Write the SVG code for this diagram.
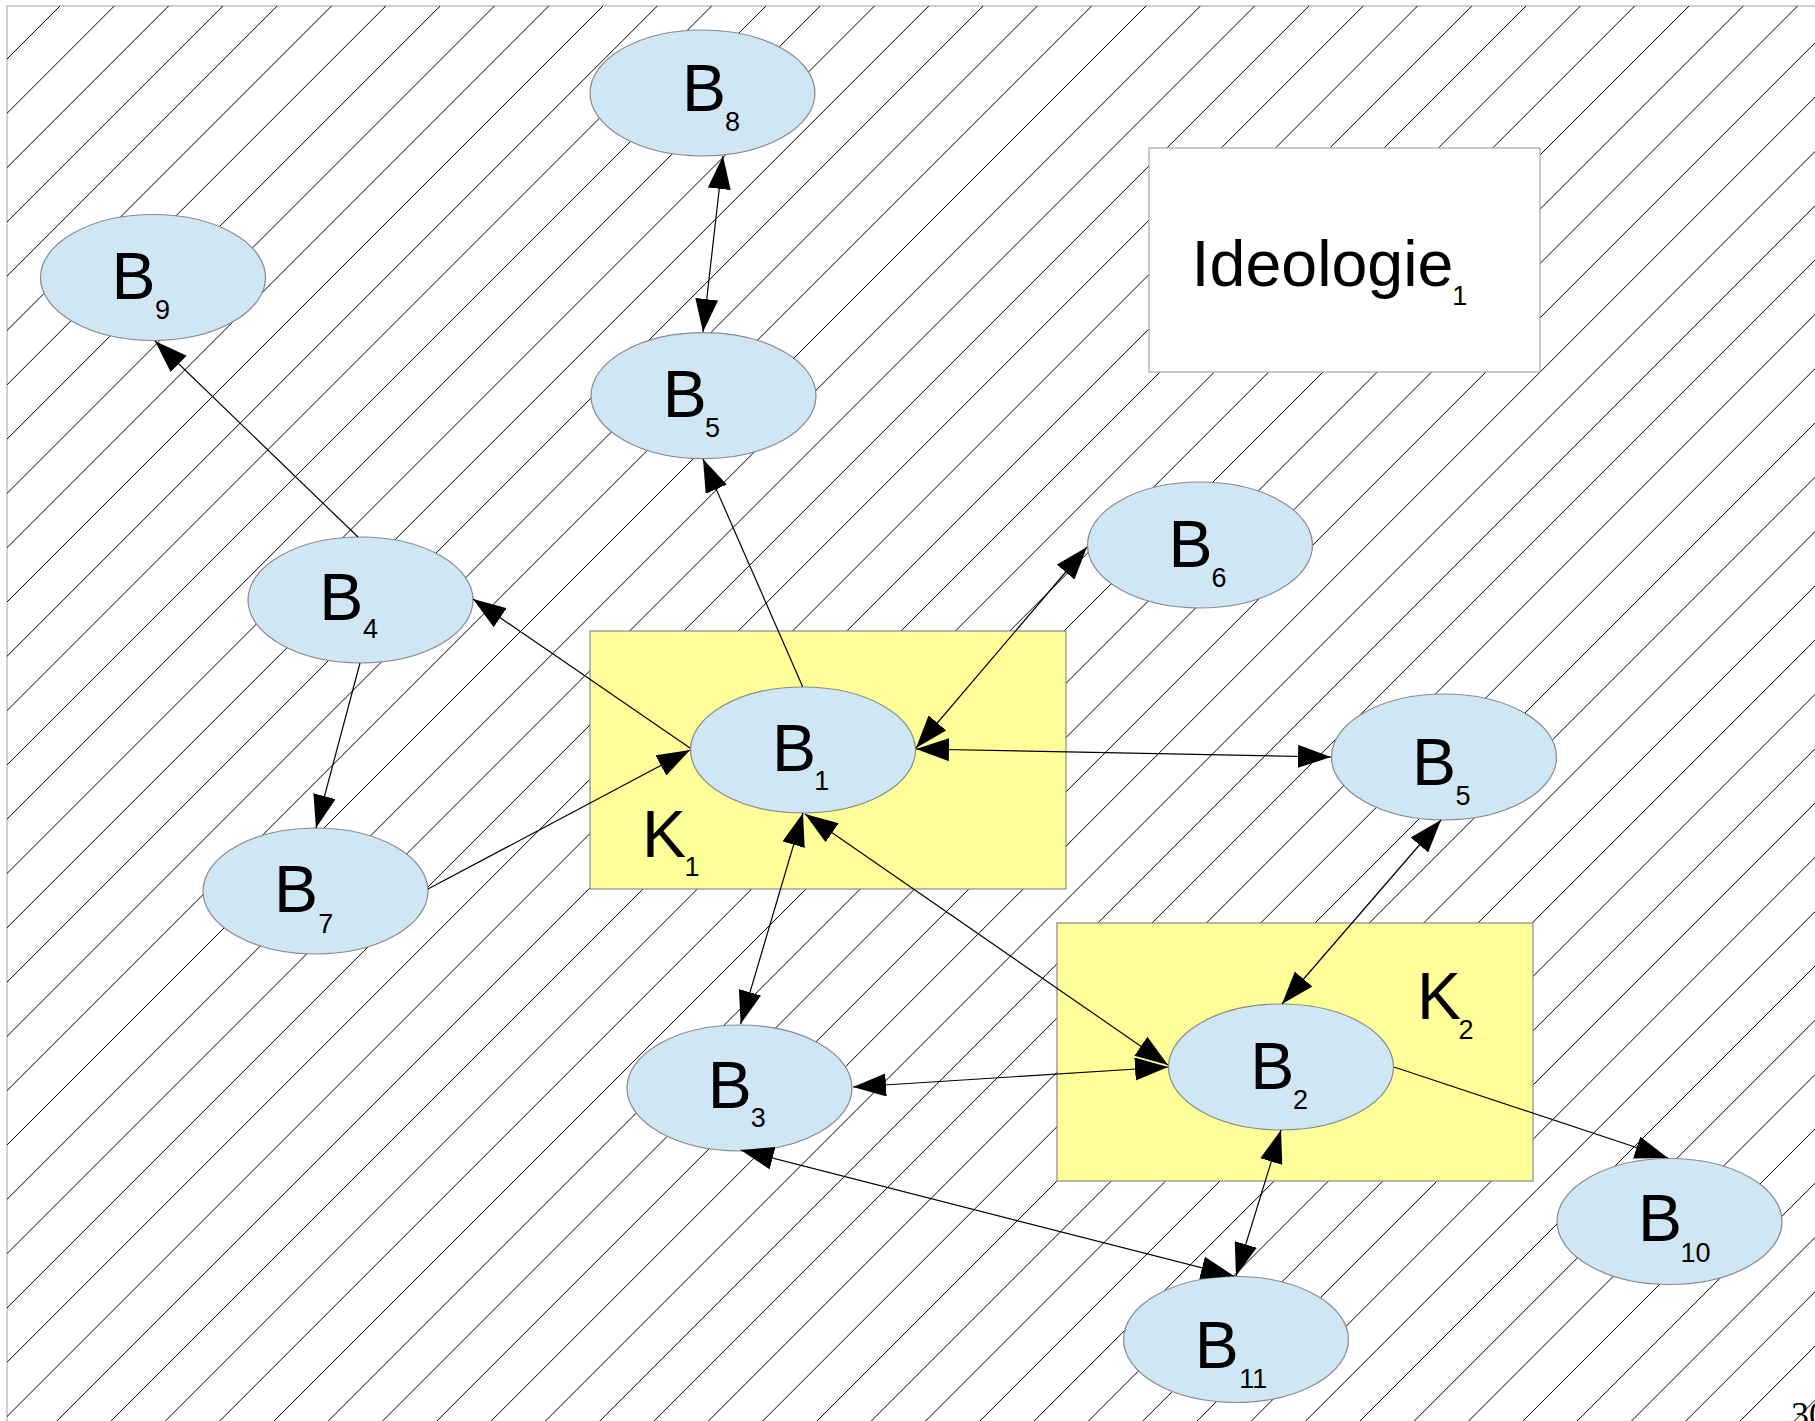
<svg xmlns="http://www.w3.org/2000/svg" width="1815" height="1421" viewBox="0 0 1815 1421">
<style>
.lbl{font-family:"Liberation Sans",Arial,sans-serif;font-size:66px;fill:#000}
.sub{font-size:27px}
.node{fill:#cfe6f4;stroke:#8a8a8a;stroke-width:1.2}
.k{fill:#ffff99;stroke:#8a8a8a;stroke-width:1.2}
.conn line{stroke:#000;stroke-width:1.2;fill:none}
.one{marker-end:url(#ah)}
.two{marker-start:url(#ah);marker-end:url(#ah)}
</style>
<defs>
<marker id="ah" markerUnits="userSpaceOnUse" viewBox="0 0 33 23" markerWidth="33" markerHeight="23" refX="33" refY="11.5" orient="auto-start-reverse">
<path d="M0,0 L33,11.5 L0,23 z" fill="#000"/>
</marker>
<clipPath id="bgclip"><rect x="7" y="6" width="1808" height="1415"/></clipPath>
</defs>
<rect x="7" y="6" width="1830" height="1430" fill="#fff" stroke="#b0b0b0" stroke-width="1.2"/>
<path clip-path="url(#bgclip)" stroke="#000" stroke-width="1" fill="none" d="M-1434 1500l1510 -1510M-1379.7 1500l1510 -1510M-1325.4 1500l1510 -1510M-1271.1 1500l1510 -1510M-1216.8 1500l1510 -1510M-1162.5 1500l1510 -1510M-1108.2 1500l1510 -1510M-1053.9 1500l1510 -1510M-999.6 1500l1510 -1510M-945.3 1500l1510 -1510M-891 1500l1510 -1510M-836.7 1500l1510 -1510M-782.4 1500l1510 -1510M-728.1 1500l1510 -1510M-673.8 1500l1510 -1510M-619.5 1500l1510 -1510M-565.2 1500l1510 -1510M-510.9 1500l1510 -1510M-456.6 1500l1510 -1510M-402.3 1500l1510 -1510M-348 1500l1510 -1510M-293.7 1500l1510 -1510M-239.4 1500l1510 -1510M-185.1 1500l1510 -1510M-130.8 1500l1510 -1510M-76.5 1500l1510 -1510M-22.2 1500l1510 -1510M32.1 1500l1510 -1510M86.4 1500l1510 -1510M140.7 1500l1510 -1510M195 1500l1510 -1510M249.3 1500l1510 -1510M303.6 1500l1510 -1510M357.9 1500l1510 -1510M412.2 1500l1510 -1510M466.5 1500l1510 -1510M520.8 1500l1510 -1510M575.1 1500l1510 -1510M629.4 1500l1510 -1510M683.7 1500l1510 -1510M738 1500l1510 -1510M792.3 1500l1510 -1510M846.6 1500l1510 -1510M900.9 1500l1510 -1510M955.2 1500l1510 -1510M1009.5 1500l1510 -1510M1063.8 1500l1510 -1510M1118.1 1500l1510 -1510M1172.4 1500l1510 -1510M1226.7 1500l1510 -1510M1281 1500l1510 -1510M1335.3 1500l1510 -1510M1389.6 1500l1510 -1510M1443.9 1500l1510 -1510M1498.2 1500l1510 -1510M1552.5 1500l1510 -1510M1606.8 1500l1510 -1510M1661.1 1500l1510 -1510M1715.4 1500l1510 -1510"/>

<g id="K1">
<rect class="k" x="590" y="631" width="476" height="258"/>
<text class="lbl" x="641.9" y="857.3">K<tspan class="sub" x="684.5" y="876">1</tspan></text>
</g>
<g id="K2">
<rect class="k" x="1057" y="923" width="476" height="258"/>
<text class="lbl" x="1416.9" y="1019.3">K<tspan class="sub" x="1458.5" y="1039.3">2</tspan></text>
</g>
<g id="Ideologie1">
<rect x="1149" y="148" width="391" height="224" fill="#fff" stroke="#a6a6a6" stroke-width="1.2"/>
<text class="lbl" style="font-size:64.5px" x="1191.6" y="286">Ideologie<tspan class="sub" x="1452.2" y="305">1</tspan></text>
</g>

<g id="B8"><ellipse class="node" cx="702.5" cy="93" rx="112.5" ry="63"/><text class="lbl" x="681.9" y="111">B<tspan class="sub" x="725" y="130.7">8</tspan></text></g>
<g id="B9"><ellipse class="node" cx="153" cy="277.5" rx="112.5" ry="63"/><text class="lbl" x="111.4" y="299.3">B<tspan class="sub" x="155" y="319.3">9</tspan></text></g>
<g id="B5a"><ellipse class="node" cx="703.5" cy="395.7" rx="112.5" ry="63"/><text class="lbl" x="662.7" y="417.3">B<tspan class="sub" x="705" y="437.3">5</tspan></text></g>
<g id="B6"><ellipse class="node" cx="1200" cy="545" rx="112.5" ry="63"/><text class="lbl" x="1168.5" y="567.3">B<tspan class="sub" x="1211.5" y="587.3">6</tspan></text></g>
<g id="B4"><ellipse class="node" cx="360.5" cy="600" rx="112.5" ry="63"/><text class="lbl" x="319.2" y="620">B<tspan class="sub" x="363" y="638.3">4</tspan></text></g>
<g id="B1"><ellipse class="node" cx="803" cy="750" rx="112.5" ry="63"/><text class="lbl" x="771.9" y="770.7">B<tspan class="sub" x="814.2" y="790">1</tspan></text></g>
<g id="B5b"><ellipse class="node" cx="1444" cy="757" rx="112.5" ry="63"/><text class="lbl" x="1411.9" y="785">B<tspan class="sub" x="1455.5" y="805">5</tspan></text></g>
<g id="B7"><ellipse class="node" cx="315.5" cy="891" rx="112.5" ry="63"/><text class="lbl" x="273.9" y="912.3">B<tspan class="sub" x="318.3" y="933.3">7</tspan></text></g>
<g id="B2"><ellipse class="node" cx="1281" cy="1067" rx="112.5" ry="63"/><text class="lbl" x="1250.2" y="1089.3">B<tspan class="sub" x="1293" y="1109.3">2</tspan></text></g>
<g id="B3"><ellipse class="node" cx="739.5" cy="1088" rx="112.5" ry="63"/><text class="lbl" x="707.7" y="1107.7">B<tspan class="sub" x="750.8" y="1127.3">3</tspan></text></g>
<g id="B10"><ellipse class="node" cx="1669.5" cy="1221.5" rx="112.5" ry="63"/><text class="lbl" x="1637.9" y="1241">B<tspan class="sub" x="1680.5" y="1261.7">10</tspan></text></g>
<g id="B11"><ellipse class="node" cx="1236" cy="1339.5" rx="112.5" ry="63"/><text class="lbl" x="1194.8" y="1367.7">B<tspan class="sub" x="1239.2" y="1387.7">11</tspan></text></g>

<g id="connectors" class="conn">
<line class="one" x1="358" y1="537" x2="155" y2="341"/>
<line class="one" x1="360" y1="663" x2="316" y2="828"/>
<line class="one" x1="690" y1="748" x2="473" y2="599"/>
<line class="one" x1="428" y1="889" x2="690" y2="750"/>
<line class="one" x1="802.7" y1="686.7" x2="703" y2="459"/>
<line class="two" x1="723" y1="156" x2="703" y2="332"/>
<line class="two" x1="1087" y1="547" x2="916" y2="748"/>
<line class="two" x1="1331" y1="757" x2="916" y2="749"/>
<line class="two" x1="740.6" y1="1024" x2="803" y2="813"/>
<line class="two" x1="1168" y1="1065" x2="805" y2="814"/>
<line class="two" x1="1441" y1="820" x2="1282" y2="1004"/>
<line class="two" x1="853" y1="1087" x2="1168" y2="1067"/>
<line class="two" x1="740.6" y1="1150" x2="1234" y2="1276"/>
<line class="two" x1="1281" y1="1130" x2="1236" y2="1276"/>
<line class="one" x1="1394" y1="1067" x2="1668" y2="1158"/>
</g>

<text x="1791" y="1427" style="font-family:'Liberation Serif','Times New Roman',serif;font-size:36px">30</text>
</svg>
